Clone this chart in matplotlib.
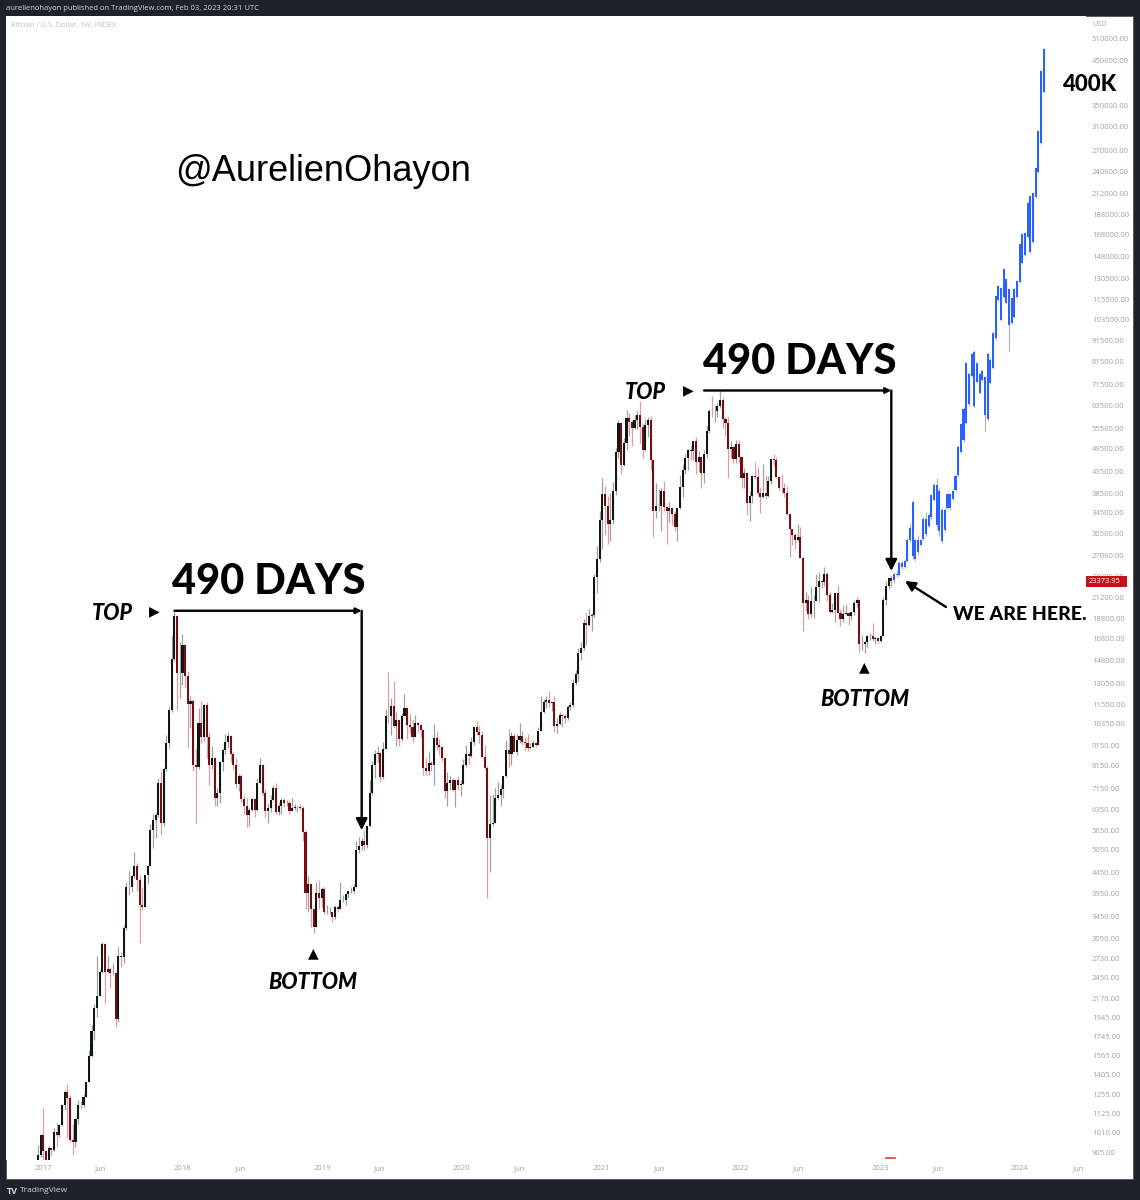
import numpy as np
import pandas as pd
import matplotlib
matplotlib.use("Agg")
import matplotlib.pyplot as plt
import matplotlib.dates as mdates
from matplotlib.patches import Rectangle
from matplotlib.lines import Line2D
from matplotlib.ticker import NullLocator

plt.rcParams["font.family"] = ["Open Sans", "DejaVu Sans"]

# Weekly BTC candles (week starts Monday), open = previous close
first_open = 790
close_2016 = [891, 998]
high_2016 = [940, 1000]
low_2016 = [788, 880]

close_2017 = [910, 822, 925, 914, 1015, 998, 1055, 1180, 1270, 1230, 970, 960, 1090, 1185, 1180, 1240, 1350, 1560,
              1800, 2050, 2200, 2520, 2950, 2520, 2560, 2500, 2510, 1930, 2760, 2750, 3230, 4100, 4100, 4350, 4600,
              4250, 3700, 3650, 4370, 4600, 5650, 6000, 6150, 7400, 5900, 8000, 9300, 11200, 15000, 19100, 13800, 13800]
high_2017 = [1160, 910, 935, 925, 1035, 1065, 1060, 1190, 1290, 1330, 1250, 1060, 1100, 1215, 1210, 1260, 1355, 1620,
             1860, 2100, 2760, 2550, 2990, 2980, 2770, 2600, 2650, 2530, 2900, 2830, 3300, 4200, 4480, 4370, 4980,
             4700, 4380, 4100, 4380, 4620, 5860, 6180, 6250, 7600, 7900, 8100, 9700, 11400, 17200, 19700, 19200, 16500]
low_2017 = [810, 740, 820, 885, 910, 930, 985, 1050, 1150, 980, 960, 890, 930, 1060, 1155, 1170, 1235, 1345,
            1550, 1710, 1950, 2200, 2500, 2100, 2500, 2300, 2480, 1840, 1900, 2600, 2650, 3200, 3900, 3980, 4300,
            4000, 2980, 3600, 3650, 4150, 4600, 5100, 5400, 6100, 5500, 5800, 7900, 9000, 11100, 14800, 11200, 12000]

close_2018 = [16200, 13600, 11600, 11800, 8200, 8100, 10400, 9600, 11500, 9600, 8200, 8500, 6800, 7000, 8350, 8900,
              9350, 9650, 8700, 8200, 7350, 7700, 6750, 6500, 6150, 6350, 6750, 6350, 7400, 8200, 7000, 6300, 6400,
              6700, 7200, 6250, 6500, 6700, 6600, 6600, 6300, 6400, 6450, 6450, 6400, 5600, 3950, 4150, 3600, 3250,
              3950, 3850, 4050]
high_2018 = [17250, 16300, 14000, 12100, 11900, 9000, 11300, 11800, 11600, 11700, 9900, 9100, 8500, 7200, 8400, 9000,
             9750, 9900, 9700, 8800, 8500, 7800, 7800, 6900, 6800, 6450, 6800, 6780, 7600, 8500, 8250, 7150, 6600,
             6900, 7300, 7400, 6600, 6800, 6800, 6700, 6700, 6800, 6550, 6500, 6550, 6500, 5650, 4350, 4150, 3600,
             4200, 4250, 4100]
low_2018 = [12900, 12800, 9000, 10100, 7900, 5900, 8000, 9300, 9400, 8500, 7300, 8000, 6500, 6500, 6600, 7900,
            8700, 9000, 8350, 7950, 7200, 7050, 6650, 6200, 5750, 5800, 6300, 6100, 6300, 7350, 6900, 6100, 5900,
            6250, 6700, 6200, 6150, 6200, 6450, 6500, 6200, 6300, 6350, 6250, 6350, 5300, 3600, 3550, 3250, 3150,
            3250, 3600, 3650]

close_2019 = [3550, 3550, 3550, 3450, 3650, 3600, 3800, 3800, 3920, 4000, 4000, 4100, 5050, 5150, 5300, 5200, 5800,
              7000, 8200, 8700, 8750, 7650, 8950, 10850, 10800, 11450, 10250, 10550, 9500, 10800, 11300, 10300, 10150,
              9600, 10400, 10300, 10000, 8050, 7900, 8300, 8200, 9550, 9200, 9050, 8500, 7050, 7400, 7500, 7100, 7500,
              7300, 7350]
high_2019 = [4100, 3700, 3650, 3550, 3700, 3700, 4200, 3900, 3950, 4000, 4100, 4150, 5300, 5450, 5400, 5650, 5800,
             7500, 8400, 8900, 9100, 8800, 9350, 11250, 13900, 12000, 13200, 11100, 10650, 11000, 12300, 11400, 10950,
             10600, 10900, 10450, 10350, 10050, 8500, 8850, 8400, 10350, 9950, 9500, 9100, 8500, 7850, 7700, 7600,
             7500, 7700, 7500]
low_2019 = [3500, 3500, 3500, 3350, 3400, 3550, 3600, 3750, 3700, 3850, 3950, 3950, 4100, 4950, 5050, 5050, 5100,
            5750, 6900, 7600, 8300, 7450, 7550, 8950, 10400, 9700, 10100, 9100, 9100, 9400, 10800, 9500, 9800,
            9350, 9600, 9900, 9600, 7750, 7750, 7750, 7900, 7300, 8900, 8650, 8400, 6800, 6500, 7100, 7050, 6450,
            7100, 6850]

close_2020 = [8200, 8700, 8600, 9350, 10150, 9900, 9700, 8550, 8050, 5400, 5850, 5900, 6800, 6900, 7150, 7700, 8900,
              8700, 9650, 8800, 9450, 9650, 9350, 9300, 9000, 9050, 9300, 9150, 9950, 11100, 11700, 11850, 11650,
              11700, 10250, 10350, 10900, 10800, 10700, 11400, 11500, 13050, 13750, 15500, 15950, 18400, 18200,
              19150, 19250, 23850, 26500, 33000]
high_2020 = [8450, 9200, 8800, 9600, 10150, 10500, 10250, 9950, 9200, 8150, 6900, 6950, 7200, 7450, 7300, 7700,
             9450, 10050, 9900, 9850, 9750, 10400, 9950, 9600, 9750, 9300, 9450, 9350, 10150, 12100, 11900, 12100,
             12450, 11700, 12100, 10700, 11100, 10950, 10950, 11500, 11750, 13350, 14100, 15950, 16450, 18800, 19450,
             19900, 19400, 24250, 28400, 34800]
low_2020 = [7350, 8100, 8250, 8550, 9150, 9700, 9300, 8500, 8000, 3850, 4450, 5800, 5900, 6750, 6500, 6800, 7650,
            8100, 8200, 8800, 8650, 9300, 9200, 8900, 8850, 8950, 9050, 9050, 9150, 9950, 11000, 11300, 11400,
            11150, 9900, 9850, 10300, 10150, 10400, 10550, 11200, 11400, 12900, 13200, 14850, 15800, 16200, 18100,
            17600, 19000, 21850, 26000]

close_2021 = [38200, 35800, 32300, 33100, 38900, 48600, 57400, 45200, 51150, 59100, 57600, 55800, 58200, 60000,
              56200, 49100, 56700, 58200, 46400, 34700, 35700, 35800, 39000, 35600, 34700, 35300, 34250, 31800,
              35400, 39850, 43800, 47000, 49300, 48900, 51800, 46000, 47300, 43200, 48200, 54700, 61500, 61300,
              61300, 63300, 65500, 58700, 57300, 49400, 50100, 46700, 50800, 47300]
high_2021 = [41950, 40100, 37850, 38600, 41000, 49700, 58350, 57500, 52600, 61700, 60600, 58400, 60000, 61300,
             64900, 57500, 58500, 59500, 59600, 46600, 40800, 39400, 39500, 41300, 35700, 36600, 35300, 34700,
             35400, 42600, 45300, 48100, 49400, 50500, 51900, 52900, 48800, 47300, 49200, 56500, 62000, 67000,
             63700, 64300, 69000, 66400, 59300, 59200, 51900, 50200, 52000, 52100]
low_2021 = [28000, 30400, 28800, 29250, 32300, 38000, 47000, 43000, 44950, 49300, 53300, 50400, 55500, 55500,
            51200, 47100, 48800, 52900, 43800, 30000, 33400, 34800, 31100, 34800, 28800, 32700, 32100, 31100,
            29300, 35200, 37600, 43000, 43900, 46400, 46500, 43000, 43400, 39600, 40800, 46900, 54100, 59500,
            57800, 59400, 62300, 55600, 53300, 42000, 47100, 45600, 45600, 45700]

close_2022 = [41900, 43100, 36300, 37900, 42400, 42200, 38400, 37700, 38400, 37800, 41300, 46800, 46400, 42200,
              39700, 39500, 38500, 34100, 31300, 30300, 29400, 29900, 26600, 20600, 21000, 19300, 20800, 20800,
              22600, 23300, 23200, 24300, 21500, 19600, 19800, 21800, 19400, 18800, 19300, 19450, 19100, 19550,
              20600, 20900, 16300, 16300, 16450, 17100, 17100, 16750, 16850, 16550]
high_2022 = [47600, 44400, 43500, 38900, 42600, 45800, 44700, 39800, 45400, 42600, 42400, 46900, 48200, 47200,
             42400, 42900, 40800, 40000, 34300, 31400, 30700, 32200, 31700, 26800, 21900, 21500, 22500, 21600,
             24300, 24600, 23600, 25200, 24500, 21900, 20600, 21800, 22800, 19900, 20400, 20500, 19600, 19700,
             21000, 21300, 21000, 17200, 16700, 17200, 17400, 18400, 17000, 16950]
low_2022 = [39700, 39600, 34000, 32900, 36300, 41700, 38000, 34300, 37500, 37200, 37600, 40500, 45000, 41900,
            39200, 38600, 37700, 33700, 26700, 28700, 28000, 29300, 26600, 17600, 19700, 18800, 19000, 18900,
            20800, 20700, 22400, 22700, 20800, 19500, 19500, 18500, 19400, 18100, 18500, 19200, 18200, 18700,
            19250, 20100, 15600, 15800, 15500, 16000, 16700, 16600, 16300, 16400]

close_2023 = [17100, 20900, 22700, 23750, 23373.95]
high_2023 = [17100, 21300, 23300, 23900, 24200]
low_2023 = [16500, 17100, 20400, 22300, 22500]
last_date = "2023-01-30"

# Projected path (blue bars), weekly from Feb 6 2023
proj_start = "2023-02-06"
proj_open = [23400, 24300, 24200, 25900, 25300, 26200, 29400, 36500, 26400, 29500, 28700, 29700, 33200, 31900,
             33500, 37000, 40300, 31000, 35000, 31200, 35400, 38200, 37300, 39200, 42600, 48600, 52000, 57500,
             76000, 75000, 86000, 72500, 75800, 73200, 74300, 58500, 82300, 78300, 92800, 115300, 123500, 117500,
             130000, 123000, 101200, 104900, 117300, 127800, 142400, 149000, 165400, 208600, 160800, 207400,
             239500, 282500, 378000]
proj_close = [24300, 24100, 25900, 25200, 26100, 29500, 31500, 26900, 29500, 27500, 29500, 33200, 30500, 34000,
              38000, 40300, 32000, 39000, 29300, 35000, 38200, 35300, 39000, 42500, 50000, 57000, 62200, 80500,
              64000, 85000, 63000, 80500, 68000, 77000, 60000, 85000, 72200, 95500, 117800, 125000, 103000, 137500,
              113300, 100000, 116600, 122900, 128500, 158700, 168000, 168800, 200400, 151600, 212300, 244600,
              302000, 425000, 482000]
proj_high = [24500, 24800, 26100, 26100, 26400, 29800, 32400, 36900, 29700, 30400, 29700, 33500, 34500, 34300,
             38300, 40700, 41900, 39500, 35400, 35400, 38500, 38600, 39300, 42900, 50500, 57300, 62800, 81000,
             76600, 85600, 86700, 81000, 76200, 77400, 74800, 85700, 82800, 96200, 118500, 125600, 124200, 138300,
             130800, 123600, 117300, 123600, 129200, 159600, 168900, 169700, 201600, 209800, 213500, 246000,
             304000, 427500, 485000]
proj_low = [23100, 23900, 24000, 25000, 25100, 26000, 29200, 26500, 26100, 27100, 28500, 29500, 30200, 31700,
            33200, 36700, 31300, 30200, 28900, 30900, 35200, 35000, 37100, 38900, 42200, 48300, 51600, 57000,
            63300, 74300, 62400, 72000, 67500, 72700, 54700, 58000, 71600, 77800, 92200, 114700, 102400, 116700,
            112600, 86300, 100600, 104300, 116700, 127000, 141600, 148200, 164500, 150800, 160000, 206300,
            238000, 281000, 376000]

price_ticks = [905, 1010, 1125, 1255, 1405, 1565, 1745, 1945, 2170, 2450, 2730, 3050, 3450, 3950, 4450, 5050,
               5650, 6350, 7150, 8150, 9150, 10350, 11550, 13050, 14800, 16800, 18800, 21200, 24000, 27000, 30500,
               34500, 38500, 43500, 49500, 55500, 63500, 71500, 81500, 91500, 103500, 115500, 130500, 148000,
               168000, 188000, 212000, 240000, 270000, 310000, 350000, 450000, 510000]
date_ticks = ["2017-01-01", "2017-06-01", "2018-01-01", "2018-06-01", "2019-01-01", "2019-06-01", "2020-01-01",
              "2020-06-01", "2021-01-01", "2021-06-01", "2022-01-01", "2022-06-01", "2023-01-01", "2023-06-01",
              "2024-01-01", "2024-06-01"]
date_labels = ["2017", "Jun", "2018", "Jun", "2019", "Jun", "2020", "Jun", "2021", "Jun", "2022", "Jun",
               "2023", "Jun", "2024", "Jun"]

top1_start, top2_start, span_days = "2017-12-11", "2021-09-27", 490
arrow1_tip, arrow2_tip = 5650, 24700

close = np.array(close_2016 + close_2017 + close_2018 + close_2019 + close_2020 + close_2021 + close_2022 + close_2023, float)
high = np.array(high_2016 + high_2017 + high_2018 + high_2019 + high_2020 + high_2021 + high_2022 + high_2023, float)
low = np.array(low_2016 + low_2017 + low_2018 + low_2019 + low_2020 + low_2021 + low_2022 + low_2023, float)
opens = np.concatenate([[first_open], close[:-1]])
x = mdates.date2num(pd.date_range(end=last_date, periods=len(close), freq="7D"))
px = mdates.date2num(pd.date_range(start=proj_start, periods=len(proj_close), freq="7D"))
p_open, p_close = np.array(proj_open, float), np.array(proj_close, float)
p_high, p_low = np.array(proj_high, float), np.array(proj_low, float)

# ---- figure / panel geometry (pixels) ----
W, H = 1140, 1200
AX_L, AX_R, AX_T, AX_B = 6, 1086, 16, 1160
fig = plt.figure(figsize=(W / 100, H / 100), dpi=100, facecolor="#1e222d")
fig.patches.append(Rectangle((6 / W, 1 - 1179 / H), 1127 / W, 1163 / H, transform=fig.transFigure,
                             facecolor="white", edgecolor="#50545f", lw=0.6, zorder=-1))
ax = fig.add_axes([AX_L / W, 1 - AX_B / H, (AX_R - AX_L) / W, (AX_B - AX_T) / H])

px_per_day = 139.57 / 365.25
x0 = mdates.date2num(pd.Timestamp("2017-01-01"))
ax.set_xlim(x0 - (43 - AX_L) / px_per_day, x0 + (AX_R - 43) / px_per_day)


def price_at(y):
    return 510000 * 10 ** (-(y - 39) / 404.6)


ax.set_yscale("log")
ax.set_ylim(price_at(AX_B), price_at(AX_T))

# candles
up = close >= opens
body_w = 5.4
ax.vlines(x[up], low[up], high[up], color="#a0a0a0", lw=0.9, zorder=2)
ax.vlines(x[~up], low[~up], high[~up], color="#d99ea6", lw=0.9, zorder=2)
ax.bar(x[up], (close - opens)[up], bottom=opens[up], width=body_w, color="#0d1810", lw=0, zorder=3)
ax.bar(x[~up], (opens - close)[~up], bottom=close[~up], width=body_w, color="#7a0b10", lw=0, zorder=3)

# projection
ax.vlines(px, p_low, p_high, color="#b4b4b4", lw=0.9, zorder=2)
ax.bar(px, np.abs(p_close - p_open), bottom=np.minimum(p_open, p_close), width=body_w, color="#2962ff",
       lw=0, zorder=3)

# 490 day brackets
for start, price, tip in [(top1_start, high[:60].max(), arrow1_tip), (top2_start, high.max(), arrow2_tip)]:
    xs = mdates.date2num(pd.Timestamp(start))
    xe = xs + span_days
    ax.annotate("", xy=(xe, price), xytext=(xs, price),
                arrowprops=dict(arrowstyle="-|>", color="black", lw=1.7, shrinkA=0, shrinkB=0, mutation_scale=8))
    ax.annotate("", xy=(xe, tip), xytext=(xe, price),
                arrowprops=dict(arrowstyle="-|>", color="black", lw=1.7, shrinkA=0, shrinkB=0, mutation_scale=17))

# axes styling
for s in ax.spines.values():
    s.set_visible(False)
ax.yaxis.tick_right()
ax.set_yticks(price_ticks)
ax.set_yticklabels([f"{v:.2f}" for v in price_ticks])
ax.yaxis.set_minor_locator(NullLocator())
ax.set_xticks(mdates.date2num(pd.to_datetime(date_ticks)))
ax.set_xticklabels(date_labels)
ax.tick_params(axis="y", length=0, pad=4.3, labelsize=5.5, labelcolor="#9da0a9")
ax.tick_params(axis="x", length=0, pad=3.5, labelsize=5.5, labelcolor="#9da0a9")


def label(xp, yp, s, **kw):
    fig.text(xp / W, 1 - yp / H, s, **kw)


heavy = dict(family=["Lato", "DejaVu Sans"], weight="black", color="black")
label(6, 9, "aurelienohayon published on TradingView.com, Feb 03, 2023 20:31 UTC", fontsize=5.5,
      color="#d1d4dc", va="center")
label(11, 26, "Bitcoin / U.S. Dollar, 1W, INDEX", fontsize=5.2, color="#b8bbc3", va="center")
label(1092, 25, "USD", fontsize=5.2, color="#a3a6ae", va="center")
label(175, 181, "@AurelienOhayon", fontsize=26, family=["Liberation Sans", "DejaVu Sans"], color="black",
      va="baseline")
label(172, 594, "490 DAYS", fontsize=30, va="baseline", **heavy)
label(703, 374, "490 DAYS", fontsize=30, va="baseline", **heavy)
label(133, 620, "TOP", fontsize=15.5, style="italic", ha="right", va="baseline", **heavy)
label(666, 399, "TOP", fontsize=15.5, style="italic", ha="right", va="baseline", **heavy)
label(154, 611, "\u25B6", fontsize=10, family="DejaVu Sans", ha="center", va="center")
label(688, 390, "\u25B6", fontsize=10, family="DejaVu Sans", ha="center", va="center")
label(313, 953, "\u25B2", fontsize=10, family="DejaVu Sans", ha="center", va="center")
label(864, 667, "\u25B2", fontsize=10, family="DejaVu Sans", ha="center", va="center")
label(313, 989, "BOTTOM", fontsize=15.5, style="italic", ha="center", va="baseline", **heavy)
label(865, 706, "BOTTOM", fontsize=15.5, style="italic", ha="center", va="baseline", **heavy)
label(953, 620, "WE ARE HERE.", fontsize=14, va="baseline", **heavy)
label(1063, 91, "400K", fontsize=16, va="baseline", **heavy)

fig.add_artist(plt.Annotation("", xy=(905, H - 581), xycoords="figure pixels", xytext=(946, H - 607),
                              textcoords="figure pixels",
                              arrowprops=dict(arrowstyle="-|>", color="black", lw=1.7, shrinkA=0, shrinkB=0,
                                              mutation_scale=15)))

# last price tag (covers most of the 24000 label, as in the original)
fig.patches.append(Rectangle((1086 / W, 1 - 587 / H), 41 / W, 11 / H, transform=fig.transFigure,
                             facecolor="#c8101c", zorder=5))
label(1089, 581.5, f"{close[-1]:.2f}", fontsize=5.4, color="white", va="center", zorder=6)
fig.add_artist(Line2D([886 / W, 895 / W], [1 - 1158 / H] * 2, color="#e53935", lw=1.2))

# footer
label(7, 1191, "TV", fontsize=6.5, weight="bold", color="#d1d4dc", va="center")
label(20, 1191, "TradingView", fontsize=6, color="#d1d4dc", va="center")

fig.savefig("out.png", dpi=100, facecolor=fig.get_facecolor())
